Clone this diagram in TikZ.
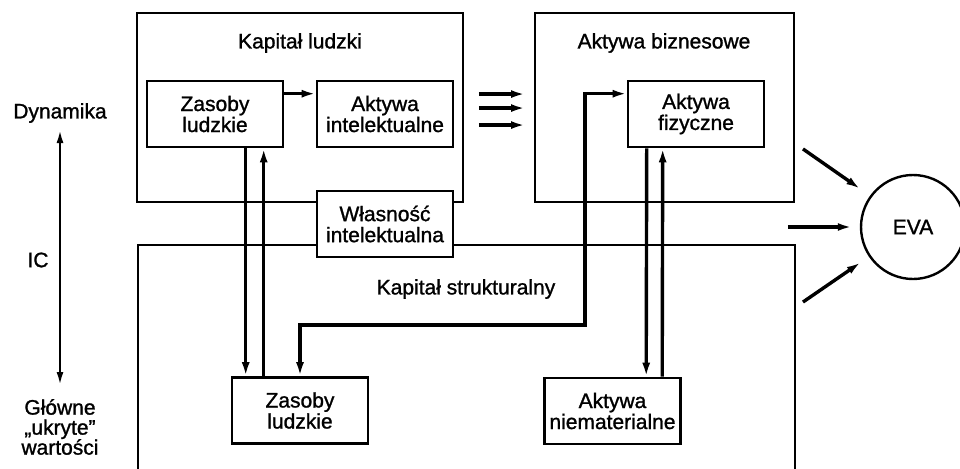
\documentclass[tikz,border=0pt]{standalone}
\usepackage{fontspec}
\setmainfont{Liberation Sans}[BoldFont=Liberation Sans, BoldFeatures={FakeBold=1.2}]
\usetikzlibrary{arrows.meta}

\begin{document}
\begin{tikzpicture}[x=1pt, y=-1pt, font=\fontsize{21}{21}\selectfont\bfseries,
  main/.style = {draw, line width=2.6pt, fill=white, minimum width=136pt, minimum height=66pt, inner sep=0pt, align=center},
  frame/.style = {draw, line width=1.9pt, inner sep=0pt},
  arr/.style = {line width=3.4pt, -{Latex[length=14pt, width=8pt]}},
  dbl/.style = {arr, {Latex[length=14pt, width=8pt]}-{Latex[length=14pt, width=8pt]}}]

  \clip (0,0) rectangle (960,468);

  % frames
  \node[frame, minimum width=326pt, minimum height=189pt] (kl) at (300,107.5) {};
  \node[frame, minimum width=259pt, minimum height=189pt] (ab) at (664.5,107.5) {};
  \node[frame, minimum width=657pt, minimum height=230pt] (ks) at (466.5,360) {};

  \node (klt) at (300,43) {Kapitał ludzki};
  \node (abt) at (664,43) {Aktywa biznesowe};
  \node (kst) at (466,289) {Kapitał strukturalny};

  % boxes
  \node[main] (zl1) at (215,114) {Zasoby\\ludzkie};
  \node[main] (ai) at (385,114) {Aktywa\\intelektualne};
  \node[main] (af) at (696,114) {Aktywa\\fizyczne};
  \node[main] (wi) at (385,224) {Własność\\intelektualna};
  \node[main] (zl2) at (300,410.5) {Zasoby\\ludzkie};
  \node[main] (an) at (612.5,411) {Aktywa\\niematerialne};

  \node[draw, circle, line width=2.4pt, minimum size=104pt, inner sep=0pt] (eva) at (913,227) {EVA};

  % left side
  \node (dyn) at (60,113) {Dynamika};
  \node (ic) at (38,260) {IC};
  \node[align=center, font=\fontsize{21}{20}\selectfont\bfseries] (gw) at (60,427) {Główne\\„ukryte”\\wartości};
  \draw[line width=2.2pt, {Latex[length=13pt, width=7pt]}-{Latex[length=13pt, width=7pt]}] ([yshift=-17pt]dyn.center) -- ([yshift=42pt]gw.center);

  % arrows
  \draw[arr] ([yshift=-14pt]zl1.north east) -- ([yshift=-14pt]ai.north west);
  \foreach \dy in {-82pt,-96pt,-113pt}
    \draw[arr] ([xshift=15pt, yshift=\dy]kl.north east) -- ([xshift=-9pt, yshift=\dy]ab.north west);

  \draw[arr] ([xshift=100pt]zl1.south west) -- ([xshift=15pt]zl2.north west);
  \draw[arr] ([xshift=33pt]zl2.north west) -- ([xshift=118pt]zl1.south west);
  \draw[arr] ([xshift=20pt]af.south west) -- ([xshift=103pt]an.north west);
  \draw[arr] ([xshift=119pt]an.north west) -- ([xshift=36pt]af.south west);

  \coordinate (turn) at (585,325);
  \draw[dbl] (zl2.north) |- (turn) |- ([yshift=-14pt]af.north west);

  \draw[arr, shorten >=12pt] ([xshift=8pt, yshift=54pt]ab.south east) -- (eva.144);
  \draw[arr, shorten >=8pt] ([xshift=-7pt]ab.south east |- eva.west) -- (eva.west);
  \draw[arr, shorten >=10pt] ([xshift=7pt, yshift=-58pt]ks.north east) -- (eva.214);

\end{tikzpicture}
\end{document}
